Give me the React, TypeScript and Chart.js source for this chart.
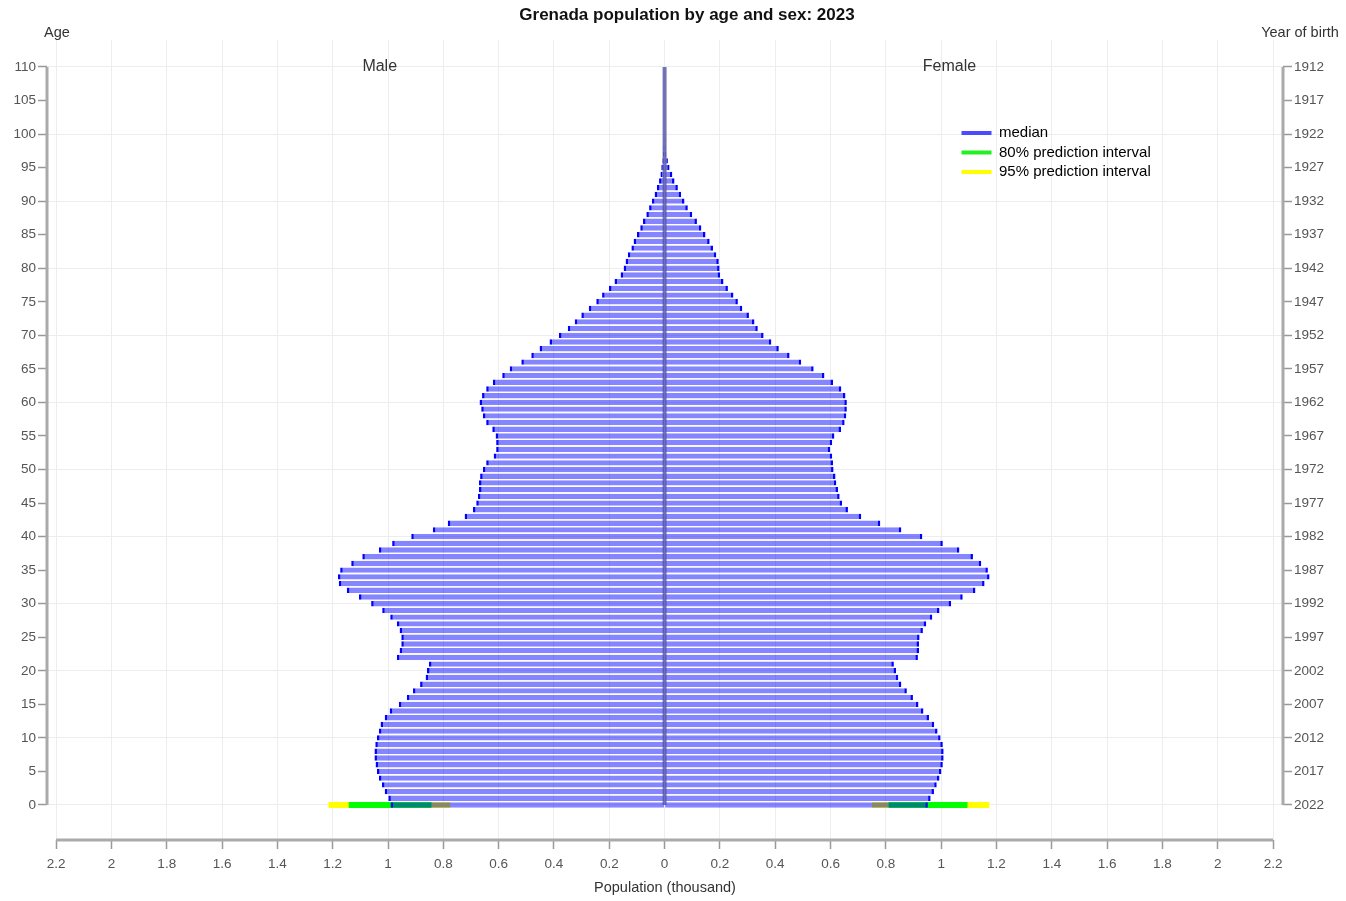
import React, { useEffect, useRef } from 'react';
import { Chart, registerables } from 'chart.js';

Chart.register(...registerables);

// ---------- data ----------
const TITLE = 'Grenada population by age and sex: 2023';

// single-year ages 0..100 (categories)
const ages = Array.from({ length: 101 }, (_, i) => i);
// centre axis runs over every age 0..110
const allAges = Array.from({ length: 111 }, (_, i) => i);

// median population (thousand), male, ages 0..100
const maleMedian = [
  0.991, 0.999, 1.012, 1.022, 1.033, 1.040, 1.045, 1.049, 1.049, 1.046,
  1.040, 1.033, 1.027, 1.012, 0.994, 0.961, 0.932, 0.910, 0.884, 0.864,
  0.859, 0.852, 0.968, 0.958, 0.952, 0.952, 0.958, 0.968, 0.992, 1.021,
  1.061, 1.105, 1.149, 1.178, 1.181, 1.173, 1.133, 1.093, 1.033, 0.985,
  0.916, 0.838, 0.784, 0.723, 0.693, 0.681, 0.675, 0.671, 0.671, 0.667,
  0.657, 0.645, 0.618, 0.609, 0.609, 0.611, 0.623, 0.645, 0.657, 0.663,
  0.669, 0.660, 0.645, 0.621, 0.587, 0.560, 0.518, 0.482, 0.452, 0.416,
  0.382, 0.350, 0.325, 0.301, 0.274, 0.247, 0.226, 0.201, 0.181, 0.159,
  0.148, 0.141, 0.133, 0.120, 0.112, 0.100, 0.088, 0.078, 0.066, 0.056,
  0.046, 0.036, 0.028, 0.020, 0.015, 0.012, 0.008, 0.006, 0.004, 0.003,
  0.002,
];

// median population (thousand), female, ages 0..100
const femaleMedian = [
  0.952, 0.962, 0.974, 0.984, 0.994, 1.001, 1.006, 1.009, 1.009, 1.006,
  0.998, 0.987, 0.975, 0.956, 0.936, 0.918, 0.898, 0.876, 0.856, 0.845,
  0.837, 0.829, 0.916, 0.920, 0.920, 0.922, 0.934, 0.946, 0.968, 0.994,
  1.036, 1.078, 1.124, 1.157, 1.175, 1.169, 1.145, 1.115, 1.066, 1.006,
  0.932, 0.856, 0.780, 0.711, 0.663, 0.642, 0.633, 0.627, 0.621, 0.618,
  0.611, 0.609, 0.606, 0.599, 0.606, 0.614, 0.638, 0.651, 0.657, 0.659,
  0.659, 0.654, 0.639, 0.609, 0.578, 0.539, 0.494, 0.452, 0.413, 0.386,
  0.358, 0.337, 0.325, 0.305, 0.281, 0.265, 0.249, 0.229, 0.213, 0.201,
  0.199, 0.196, 0.187, 0.175, 0.163, 0.148, 0.133, 0.117, 0.100, 0.084,
  0.072, 0.060, 0.048, 0.036, 0.028, 0.018, 0.012, 0.006, 0.004, 0.003,
  0.002,
];

// prediction intervals for age 0 (thousand): [low, high]
const intervalAge = 0;
const male80 = [0.843, 1.142];
const male95 = [0.775, 1.215];
const female80 = [0.81, 1.095];
const female95 = [0.75, 1.174];

// axis ticks
const xTickValues = [-2.2, -2, -1.8, -1.6, -1.4, -1.2, -1, -0.8, -0.6, -0.4, -0.2, 0, 0.2, 0.4, 0.6, 0.8, 1, 1.2, 1.4, 1.6, 1.8, 2, 2.2];
const xTickLabels = ['2.2', '2', '1.8', '1.6', '1.4', '1.2', '1', '0.8', '0.6', '0.4', '0.2', '0', '0.2', '0.4', '0.6', '0.8', '1', '1.2', '1.4', '1.6', '1.8', '2', '2.2'];
const ageTicks = [0, 5, 10, 15, 20, 25, 30, 35, 40, 45, 50, 55, 60, 65, 70, 75, 80, 85, 90, 95, 100, 105, 110];
const birthYearLabels = ['2022', '2017', '2012', '2007', '2002', '1997', '1992', '1987', '1982', '1977', '1972', '1967', '1962', '1957', '1952', '1947', '1942', '1937', '1932', '1927', '1922', '1917', '1912'];

const legendTexts = ['median', '80% prediction interval', '95% prediction interval'];
const legendColors = ['#4a4aff', '#22f022', '#ffff00'];

// ---------- styles ----------
const FONT = '"Liberation Sans", Arial, Helvetica, sans-serif';
const BAR_FILL = 'rgba(0,0,255,0.48)';
const BAR_EDGE = '#0000ff';
const GREEN = '#00ff00';
const YELLOW = '#ffff00';
const GRID = '#ededed';
const AXIS = '#aaaaaa';

const decorPlugin = {
  id: 'decor',
  beforeDraw(chart: any) {
    const lg = chart.legend;
    if (lg) {
      lg.left = 957;
      lg.top = 121;
    }
  },
  afterDraw(chart: any) {
    const { ctx, chartArea } = chart;
    const x = chart.scales.x;
    const y = chart.scales.y;
    ctx.save();
    // axis lines spanning the tick ranges
    ctx.strokeStyle = AXIS;
    ctx.lineWidth = 3;
    ctx.beginPath();
    ctx.moveTo(chartArea.left, y.getPixelForValue(ageTicks[0]));
    ctx.lineTo(chartArea.left, y.getPixelForValue(ageTicks[ageTicks.length - 1]));
    ctx.moveTo(chartArea.right, y.getPixelForValue(ageTicks[0]));
    ctx.lineTo(chartArea.right, y.getPixelForValue(ageTicks[ageTicks.length - 1]));
    ctx.moveTo(x.getPixelForValue(xTickValues[0]), chartArea.bottom);
    ctx.lineTo(x.getPixelForValue(xTickValues[xTickValues.length - 1]), chartArea.bottom);
    ctx.stroke();

    ctx.fillStyle = '#333';
    ctx.textBaseline = 'middle';
    ctx.textAlign = 'center';
    ctx.font = `16px ${FONT}`;
    ctx.fillText('Male', x.getPixelForValue(-1.03), y.getPixelForValue(110));
    ctx.fillText('Female', x.getPixelForValue(1.03), y.getPixelForValue(110));
    ctx.font = `14.5px ${FONT}`;
    ctx.fillText('Age', chartArea.left + 10, 33);
    ctx.fillText('Year of birth', chartArea.right + 17, 33);
    ctx.restore();
  },
};

export default function App() {
  const ref = useRef<HTMLCanvasElement>(null);

  useEffect(() => {
    if (!ref.current) return;
    Chart.defaults.font.family = FONT;

    const barCommon = {
      type: 'bar' as const,
      grouped: false,
      barPercentage: 0.8,
      categoryPercentage: 1,
      xAxisID: 'x',
      yAxisID: 'y',
    };

    const chart = new Chart(ref.current, {
      type: 'bar',
      data: {
        datasets: [
          {
            type: 'line',
            label: 'axis',
            data: allAges.map((a) => ({ x: 0, y: a })),
            borderColor: 'rgba(80,80,165,0.8)',
            borderWidth: 4,
            pointRadius: 0,
            order: 0,
            xAxisID: 'x',
            yAxisID: 'y',
          } as any,
          {
            ...barCommon,
            label: 'Male median',
            data: maleMedian.map((v, i) => ({ x: -v, y: ages[i] })),
            backgroundColor: BAR_FILL,
            borderColor: BAR_EDGE,
            borderWidth: { left: 2.5, right: 2.5, top: 0, bottom: 0 },
            borderSkipped: 'start',
            order: 1,
          } as any,
          {
            ...barCommon,
            label: 'Female median',
            data: femaleMedian.map((v, i) => ({ x: v, y: ages[i] })),
            backgroundColor: BAR_FILL,
            borderColor: BAR_EDGE,
            borderWidth: { left: 2.5, right: 2.5, top: 0, bottom: 0 },
            borderSkipped: 'start',
            order: 1,
          } as any,
          {
            ...barCommon,
            label: '80% prediction interval',
            data: [
              { x: [-male80[1], -male80[0]], y: intervalAge },
              { x: [female80[0], female80[1]], y: intervalAge },
            ],
            backgroundColor: GREEN,
            borderWidth: 0,
            barPercentage: 0.9,
            order: 2,
          } as any,
          {
            ...barCommon,
            label: '95% prediction interval',
            data: [
              { x: [-male95[1], -male95[0]], y: intervalAge },
              { x: [female95[0], female95[1]], y: intervalAge },
            ],
            backgroundColor: YELLOW,
            borderWidth: 0,
            barPercentage: 0.9,
            order: 3,
          } as any,
        ],
      },
      options: {
        indexAxis: 'y',
        responsive: false,
        animation: false,
        layout: { padding: { left: 0, right: -28, top: 0, bottom: 0 } },
        scales: {
          x: {
            type: 'linear',
            position: 'bottom',
            min: -2.233,
            max: 2.236,
            offset: false,
            afterBuildTicks: (s: any) => {
              s.ticks = xTickValues.map((v) => ({ value: v }));
            },
            afterFit: (s: any) => {
              s.height = 61;
            },
            ticks: {
              autoSkip: false,
              maxRotation: 0,
              color: '#555',
              font: { size: 13.5 },
              padding: 7,
              callback: (_v: any, i: number) => xTickLabels[i],
            },
            grid: { offset: false, color: GRID, lineWidth: 1, tickLength: 9, tickColor: '#999', tickWidth: 1.5 },
            border: { display: false },
            title: {
              display: true,
              text: 'Population (thousand)',
              color: '#333',
              font: { size: 14.5 },
              padding: { top: 0, bottom: 4.3 },
            },
          },
          y: {
            type: 'linear',
            position: 'left',
            min: -5.22,
            max: 114.02,
            offset: false,
            afterBuildTicks: (s: any) => {
              s.ticks = ageTicks.map((v) => ({ value: v }));
            },
            afterFit: (s: any) => {
              s.width = 47;
            },
            ticks: {
              autoSkip: false,
              color: '#555',
              font: { size: 13.5 },
              padding: 2,
              callback: (_v: any, i: number) => String(ageTicks[i]),
            },
            grid: {
              offset: false,
              color: (c: any) => (c.tick && c.tick.value % 10 === 0 ? GRID : 'rgba(0,0,0,0)'),
              lineWidth: 1,
              tickLength: 9,
              tickColor: '#999',
              tickWidth: 1.5,
            },
            border: { display: false },
          },
          y2: {
            type: 'linear',
            position: 'right',
            min: -5.22,
            max: 114.02,
            offset: false,
            afterBuildTicks: (s: any) => {
              s.ticks = ageTicks.map((v) => ({ value: v }));
            },
            afterFit: (s: any) => {
              s.width = 91;
            },
            ticks: {
              autoSkip: false,
              color: '#555',
              font: { size: 13.5 },
              padding: 2,
              callback: (_v: any, i: number) => birthYearLabels[i],
            },
            grid: { offset: false, drawOnChartArea: false, tickLength: 9, tickColor: '#999', tickWidth: 1.5 },
            border: { display: false },
          },
        },
        plugins: {
          title: {
            display: true,
            text: TITLE,
            color: '#111',
            font: { size: 17, weight: 'bold' },
            padding: { top: 4.8, bottom: 14.8 },
          },
          legend: {
            position: 'chartArea',
            align: 'start',
            labels: {
              boxWidth: 30,
              boxHeight: 4,
              padding: 4.5,
              color: '#333',
              font: { size: 15 },
              generateLabels: () =>
                legendTexts.map((t, i) => ({
                  text: t,
                  fillStyle: legendColors[i],
                  strokeStyle: legendColors[i],
                  lineWidth: 0,
                  hidden: false,
                  datasetIndex: i + 1,
                })),
            },
          },
          tooltip: { enabled: false },
        },
      } as any,
      plugins: [decorPlugin],
    });

    return () => chart.destroy();
  }, []);

  return (
    <div style={{ position: 'absolute', left: 0, top: 0, width: 1346, height: 901, background: '#fff', overflow: 'hidden' }}>
      <canvas ref={ref} width={1346} height={901} style={{ display: 'block', width: 1346, height: 901 }} />
    </div>
  );
}
